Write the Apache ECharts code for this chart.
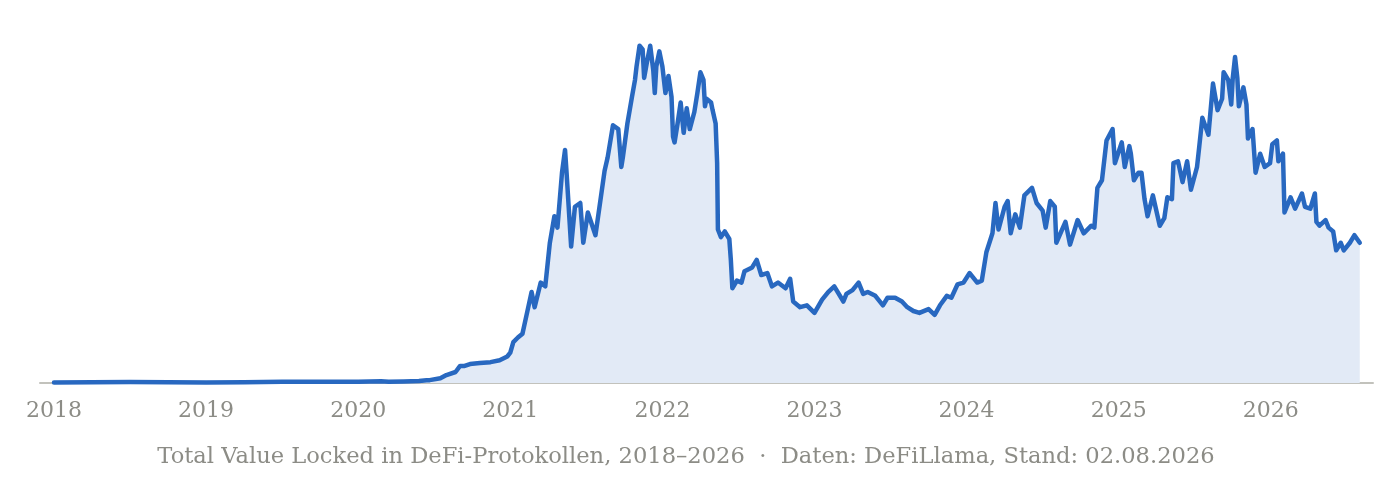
<!DOCTYPE html>
<html>
<head>
<meta charset="utf-8">
<script src="https://cdn.jsdelivr.net/npm/echarts@6/dist/echarts.min.js"></script>
<style>
  html, body { margin: 0; padding: 0; background: #ffffff; }
  #chart { width: 1400px; height: 498px; }
</style>
</head>
<body>
<div id="chart"></div>
<script>
// Decimal year of each observation
var years = [
  2018.00, 2018.25, 2018.50, 2018.75, 2019.00, 2019.25, 2019.50, 2019.75, 2020.00, 2020.15,
  2020.20, 2020.30, 2020.40, 2020.45, 2020.47, 2020.54, 2020.58, 2020.64, 2020.67, 2020.70,
  2020.735, 2020.80, 2020.87, 2020.93, 2020.98, 2021.00, 2021.02, 2021.05, 2021.08, 2021.11,
  2021.14, 2021.16, 2021.20, 2021.23, 2021.26, 2021.29, 2021.31, 2021.34, 2021.36, 2021.37,
  2021.40, 2021.425, 2021.46, 2021.48, 2021.51, 2021.56, 2021.59, 2021.62, 2021.64, 2021.675,
  2021.71, 2021.73, 2021.74, 2021.77, 2021.80, 2021.82, 2021.83, 2021.85, 2021.87, 2021.88,
  2021.90, 2021.92, 2021.94, 2021.95, 2021.96, 2021.98, 2022.00, 2022.02, 2022.04, 2022.06,
  2022.07, 2022.08, 2022.10, 2022.12, 2022.14, 2022.16, 2022.18, 2022.21, 2022.23, 2022.25,
  2022.27, 2022.28, 2022.29, 2022.32, 2022.33, 2022.35, 2022.36, 2022.365, 2022.385, 2022.41,
  2022.44, 2022.45, 2022.46, 2022.49, 2022.52, 2022.54, 2022.59, 2022.62, 2022.65, 2022.69,
  2022.72, 2022.76, 2022.81, 2022.84, 2022.86, 2022.905, 2022.95, 2023.00, 2023.05, 2023.09,
  2023.13, 2023.19, 2023.21, 2023.25, 2023.29, 2023.32, 2023.35, 2023.40, 2023.45, 2023.48,
  2023.53, 2023.575, 2023.61, 2023.65, 2023.69, 2023.75, 2023.79, 2023.825, 2023.87, 2023.90,
  2023.94, 2023.98, 2024.02, 2024.07, 2024.10, 2024.13, 2024.17, 2024.19, 2024.21, 2024.25,
  2024.27, 2024.29, 2024.32, 2024.35, 2024.38, 2024.43, 2024.46, 2024.50, 2024.52, 2024.55,
  2024.58, 2024.59, 2024.65, 2024.68, 2024.73, 2024.77, 2024.82, 2024.84, 2024.86, 2024.89,
  2024.92, 2024.96, 2024.975, 2025.02, 2025.04, 2025.07, 2025.08, 2025.10, 2025.13, 2025.15,
  2025.17, 2025.19, 2025.225, 2025.27, 2025.30, 2025.32, 2025.35, 2025.36, 2025.39, 2025.42,
  2025.45, 2025.475, 2025.515, 2025.53, 2025.55, 2025.59, 2025.62, 2025.65, 2025.68, 2025.69,
  2025.72, 2025.74, 2025.75, 2025.765, 2025.78, 2025.79, 2025.82, 2025.84, 2025.85, 2025.88,
  2025.90, 2025.93, 2025.96, 2025.995, 2026.01, 2026.04, 2026.05, 2026.08, 2026.09, 2026.13,
  2026.16, 2026.205, 2026.225, 2026.26, 2026.29, 2026.30, 2026.32, 2026.36, 2026.38, 2026.41,
  2026.43, 2026.46, 2026.48, 2026.52, 2026.55, 2026.585
];
// Total value locked, billion USD
var tvl = [
  0.3, 0.4, 0.5, 0.4, 0.3, 0.45, 0.6, 0.6, 0.7, 0.9,
  0.6, 0.8, 1.0, 1.5, 1.5, 2.5, 4.2, 5.8, 9, 9,
  10, 10.5, 11, 12, 14, 16, 21.6, 24, 26, 37,
  48, 40, 53, 51, 74, 88, 82, 111, 123, 111,
  72, 93, 95, 74, 90, 78, 95, 112, 119, 136,
  134, 114, 119, 137, 151, 160, 167, 178, 176, 161,
  170, 178, 165, 153, 167, 175, 167, 153, 162, 151,
  130, 127, 137, 148, 132, 145, 134, 143, 153, 164,
  160, 146, 150, 148, 144, 137, 116, 81, 77, 80,
  76, 65, 50, 54, 53, 59, 61, 65, 57, 58,
  51, 53, 50, 55, 43, 40, 41, 37, 44, 48,
  51, 43, 47, 49, 53, 47, 48, 46, 41, 45,
  45, 43, 40, 38, 37, 39, 36, 41, 46, 45,
  52, 53, 58, 53, 54, 69, 79, 95, 81, 93,
  96, 79, 89, 82, 99, 103, 95, 91, 82, 96,
  93, 74, 85, 73, 86, 79, 83, 82, 103, 107,
  128, 134, 116, 127, 114, 125, 121, 107, 111, 111,
  97, 88, 99, 83, 87, 98, 97, 116, 117, 106,
  117, 102, 114, 125, 140, 131, 158, 144, 150, 164,
  160, 147, 161, 172, 161, 146, 156, 147, 129, 134,
  111, 121, 114, 116, 126, 128, 117, 121, 90, 98,
  92, 100, 93, 92, 100, 85, 83, 86, 82, 80,
  70, 74, 70, 74, 78, 74
];
var yearTicks = [2018, 2019, 2020, 2021, 2022, 2023, 2024, 2025, 2026];
var caption = 'Total Value Locked in DeFi-Protokollen, 2018\u20132026 \u00a0\u00b7\u00a0 Daten: DeFiLlama, Stand: 02.08.2026';

var seriesData = years.map(function (y, i) { return [y, tvl[i]]; });
var FONT = '"DejaVu Serif", "Liberation Serif", serif';

var chart = echarts.init(document.getElementById('chart'));
chart.setOption({
  animation: false,
  backgroundColor: '#ffffff',
  grid: { left: 40, right: 27, top: 4, bottom: 115, containLabel: false },
  xAxis: {
    type: 'value',
    min: 2017.908,
    max: 2026.672,
    axisLine: { show: true, lineStyle: { color: '#c2c2bc', width: 2 } },
    axisTick: { show: false },
    splitLine: { show: false },
    axisLabel: {
      customValues: yearTicks,
      formatter: function (v) { return String(v); },
      color: '#8c8c86',
      fontFamily: FONT,
      fontSize: 22,
      margin: 17
    }
  },
  yAxis: {
    type: 'value',
    min: 0,
    max: 200,
    show: false,
    splitLine: { show: false }
  },
  series: [{
    type: 'line',
    data: seriesData,
    showSymbol: false,
    smooth: false,
    lineStyle: { color: '#2868c0', width: 4.5, join: 'round', cap: 'round' },
    areaStyle: { color: '#e2eaf6', opacity: 1 },
    z: 3
  }],
  graphic: [{
    type: 'text',
    x: 686,
    y: 457,
    style: {
      text: caption,
      fill: '#8c8c86',
      font: '22.6px ' + FONT,
      textAlign: 'center',
      textVerticalAlign: 'middle'
    }
  }]
});
</script>
</body>
</html>
